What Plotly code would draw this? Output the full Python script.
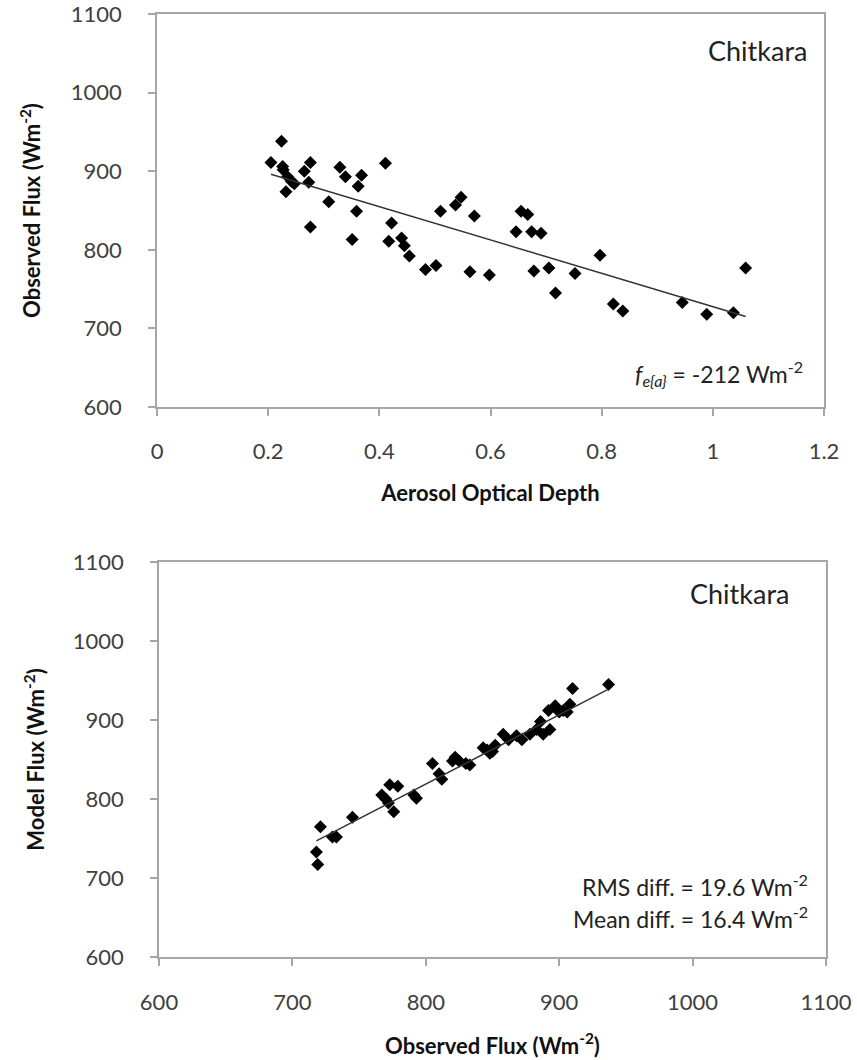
import plotly.graph_objects as go

# ---- Top panel data: AOD vs observed flux ----
aod = [0.224, 0.205, 0.226, 0.227, 0.235, 0.242, 0.247, 0.232, 0.265, 0.276,
       0.273, 0.276, 0.309, 0.329, 0.339, 0.368, 0.362, 0.359, 0.351, 0.411,
       0.422, 0.417, 0.440, 0.445, 0.454, 0.483, 0.502, 0.510, 0.537, 0.547,
       0.563, 0.571, 0.598, 0.646, 0.655, 0.667, 0.674, 0.691, 0.678, 0.705,
       0.717, 0.752, 0.797, 0.821, 0.838, 0.945, 0.989, 1.037, 1.059]
obs_flux_top = [938, 911, 906, 902, 893, 887, 884, 874, 900, 911,
                886, 829, 861, 905, 893, 895, 881, 849, 813, 910,
                834, 811, 815, 805, 792, 775, 780, 849, 857, 867,
                772, 843, 768, 823, 849, 845, 823, 821, 773, 777,
                745, 770, 793, 731, 722, 733, 718, 720, 777]
top_fit_slope = -212.0
top_fit_intercept = 939.7
top_fit_x = [0.205, 1.059]

# ---- Bottom panel data: observed vs model flux ----
obs_flux = [718, 719, 721, 730, 733, 745, 767, 770, 773, 779,
            772, 776, 791, 793, 805, 810, 812, 820, 822, 825,
            830, 833, 843, 846, 848, 850, 852, 858, 862, 868,
            872, 878, 883, 886, 888, 892, 893, 897, 900, 903,
            906, 908, 910, 937]
model_flux = [733, 717, 765, 752, 752, 777, 805, 800, 818, 816,
              795, 784, 805, 801, 845, 832, 825, 848, 853, 848,
              845, 843, 865, 862, 858, 860, 868, 882, 875, 880,
              875, 882, 888, 898, 882, 912, 888, 918, 910, 912,
              910, 920, 940, 945]
bot_fit_slope = 0.877
bot_fit_intercept = 117.3
bot_fit_x = [718, 937]

# ---- Tick labels ----
top_xticks = [0, 0.2, 0.4, 0.6, 0.8, 1.0, 1.2]
top_xticktext = ["0", "0.2", "0.4", "0.6", "0.8", "1", "1.2"]
flux_ticks = [600, 700, 800, 900, 1000, 1100]
flux_ticktext = ["600", "700", "800", "900", "1000", "1100"]

FONT = "Lato, 'Open Sans', sans-serif"
AX = "#A6A6A6"
TXT = "#404040"
TITLE_C = "#111111"

fig = go.Figure()

fig.add_trace(go.Scatter(x=aod, y=obs_flux_top, mode="markers",
                         marker=dict(symbol="diamond", size=10, color="black"),
                         xaxis="x", yaxis="y", showlegend=False))
fig.add_trace(go.Scatter(x=top_fit_x,
                         y=[top_fit_intercept + top_fit_slope * v for v in top_fit_x],
                         mode="lines", line=dict(color="#333333", width=1.5),
                         xaxis="x", yaxis="y", showlegend=False))

fig.add_trace(go.Scatter(x=obs_flux, y=model_flux, mode="markers",
                         marker=dict(symbol="diamond", size=10, color="black"),
                         xaxis="x2", yaxis="y2", showlegend=False))
fig.add_trace(go.Scatter(x=bot_fit_x,
                         y=[bot_fit_intercept + bot_fit_slope * v for v in bot_fit_x],
                         mode="lines", line=dict(color="#333333", width=1.5),
                         xaxis="x2", yaxis="y2", showlegend=False))

W, H = 857, 1060

def axis_common():
    return dict(showline=True, linecolor=AX, linewidth=1.5, mirror=True,
                ticks="outside", ticklen=7, tickcolor=AX, tickwidth=1.5,
                showgrid=False, zeroline=False, automargin=False,
                ticklabeloverflow="allow",
                tickfont=dict(family=FONT, size=22, color=TXT))

fig.update_layout(
    width=W, height=H,
    margin=dict(l=0, r=0, t=0, b=0),
    plot_bgcolor="white", paper_bgcolor="white",
    font=dict(family=FONT, color=TXT),
    xaxis=dict(**axis_common(), domain=[157 / W, 824 / W], range=[0, 1.2],
               tickvals=top_xticks, ticktext=top_xticktext, anchor="y",
               ticklabelstandoff=17,
               title=dict(text="<b>Aerosol Optical Depth</b>", standoff=22,
                          font=dict(family=FONT, size=22, color=TITLE_C))),
    yaxis=dict(**axis_common(), domain=[1 - 407 / H, 1 - 14 / H], range=[600, 1100],
               tickvals=flux_ticks, ticktext=flux_ticktext, anchor="x",
               ticklabelstandoff=22,
               title=dict(text="<b>Observed Flux (Wm<sup>-2</sup>)</b>", standoff=24,
                          font=dict(family=FONT, size=22, color=TITLE_C))),
    xaxis2=dict(**axis_common(), domain=[159 / W, 826 / W], range=[600, 1100],
                tickvals=flux_ticks, ticktext=flux_ticktext, anchor="y2",
                ticklabelstandoff=18,
                title=dict(text="<b>Observed Flux (Wm<sup>-2</sup>)</b>", standoff=24,
                           font=dict(family=FONT, size=22, color=TITLE_C))),
    yaxis2=dict(**axis_common(), domain=[1 - 957 / H, 1 - 562 / H], range=[600, 1100],
                tickvals=flux_ticks, ticktext=flux_ticktext, anchor="x2",
                ticklabelstandoff=22,
                title=dict(text="<b>Model Flux (Wm<sup>-2</sup>)</b>", standoff=22,
                           font=dict(family=FONT, size=22, color=TITLE_C))),
)

ann_font = dict(family=FONT, color="#222222")
fig.add_annotation(text="Chitkara", xref="x", yref="y", x=1.08, y=1054,
                   showarrow=False, font=dict(**ann_font, size=27), xanchor="center")
fig.add_annotation(text="<i>f<sub>e{a}</sub></i> = -212 Wm<sup>-2</sup>",
                   xref="x", yref="y", x=1.166, y=642, showarrow=False,
                   xanchor="right", font=dict(**ann_font, size=23))
fig.add_annotation(text="Chitkara", xref="x2", yref="y2", x=1035, y=1060,
                   showarrow=False, font=dict(**ann_font, size=27), xanchor="center")
fig.add_annotation(text="RMS diff. = 19.6 Wm<sup>-2</sup>", xref="x2", yref="y2",
                   x=1088, y=691, showarrow=False, xanchor="right",
                   font=dict(**ann_font, size=23))
fig.add_annotation(text="Mean diff. = 16.4 Wm<sup>-2</sup>", xref="x2", yref="y2",
                   x=1088, y=650, showarrow=False, xanchor="right",
                   font=dict(**ann_font, size=23))

fig.write_html("out.html")
